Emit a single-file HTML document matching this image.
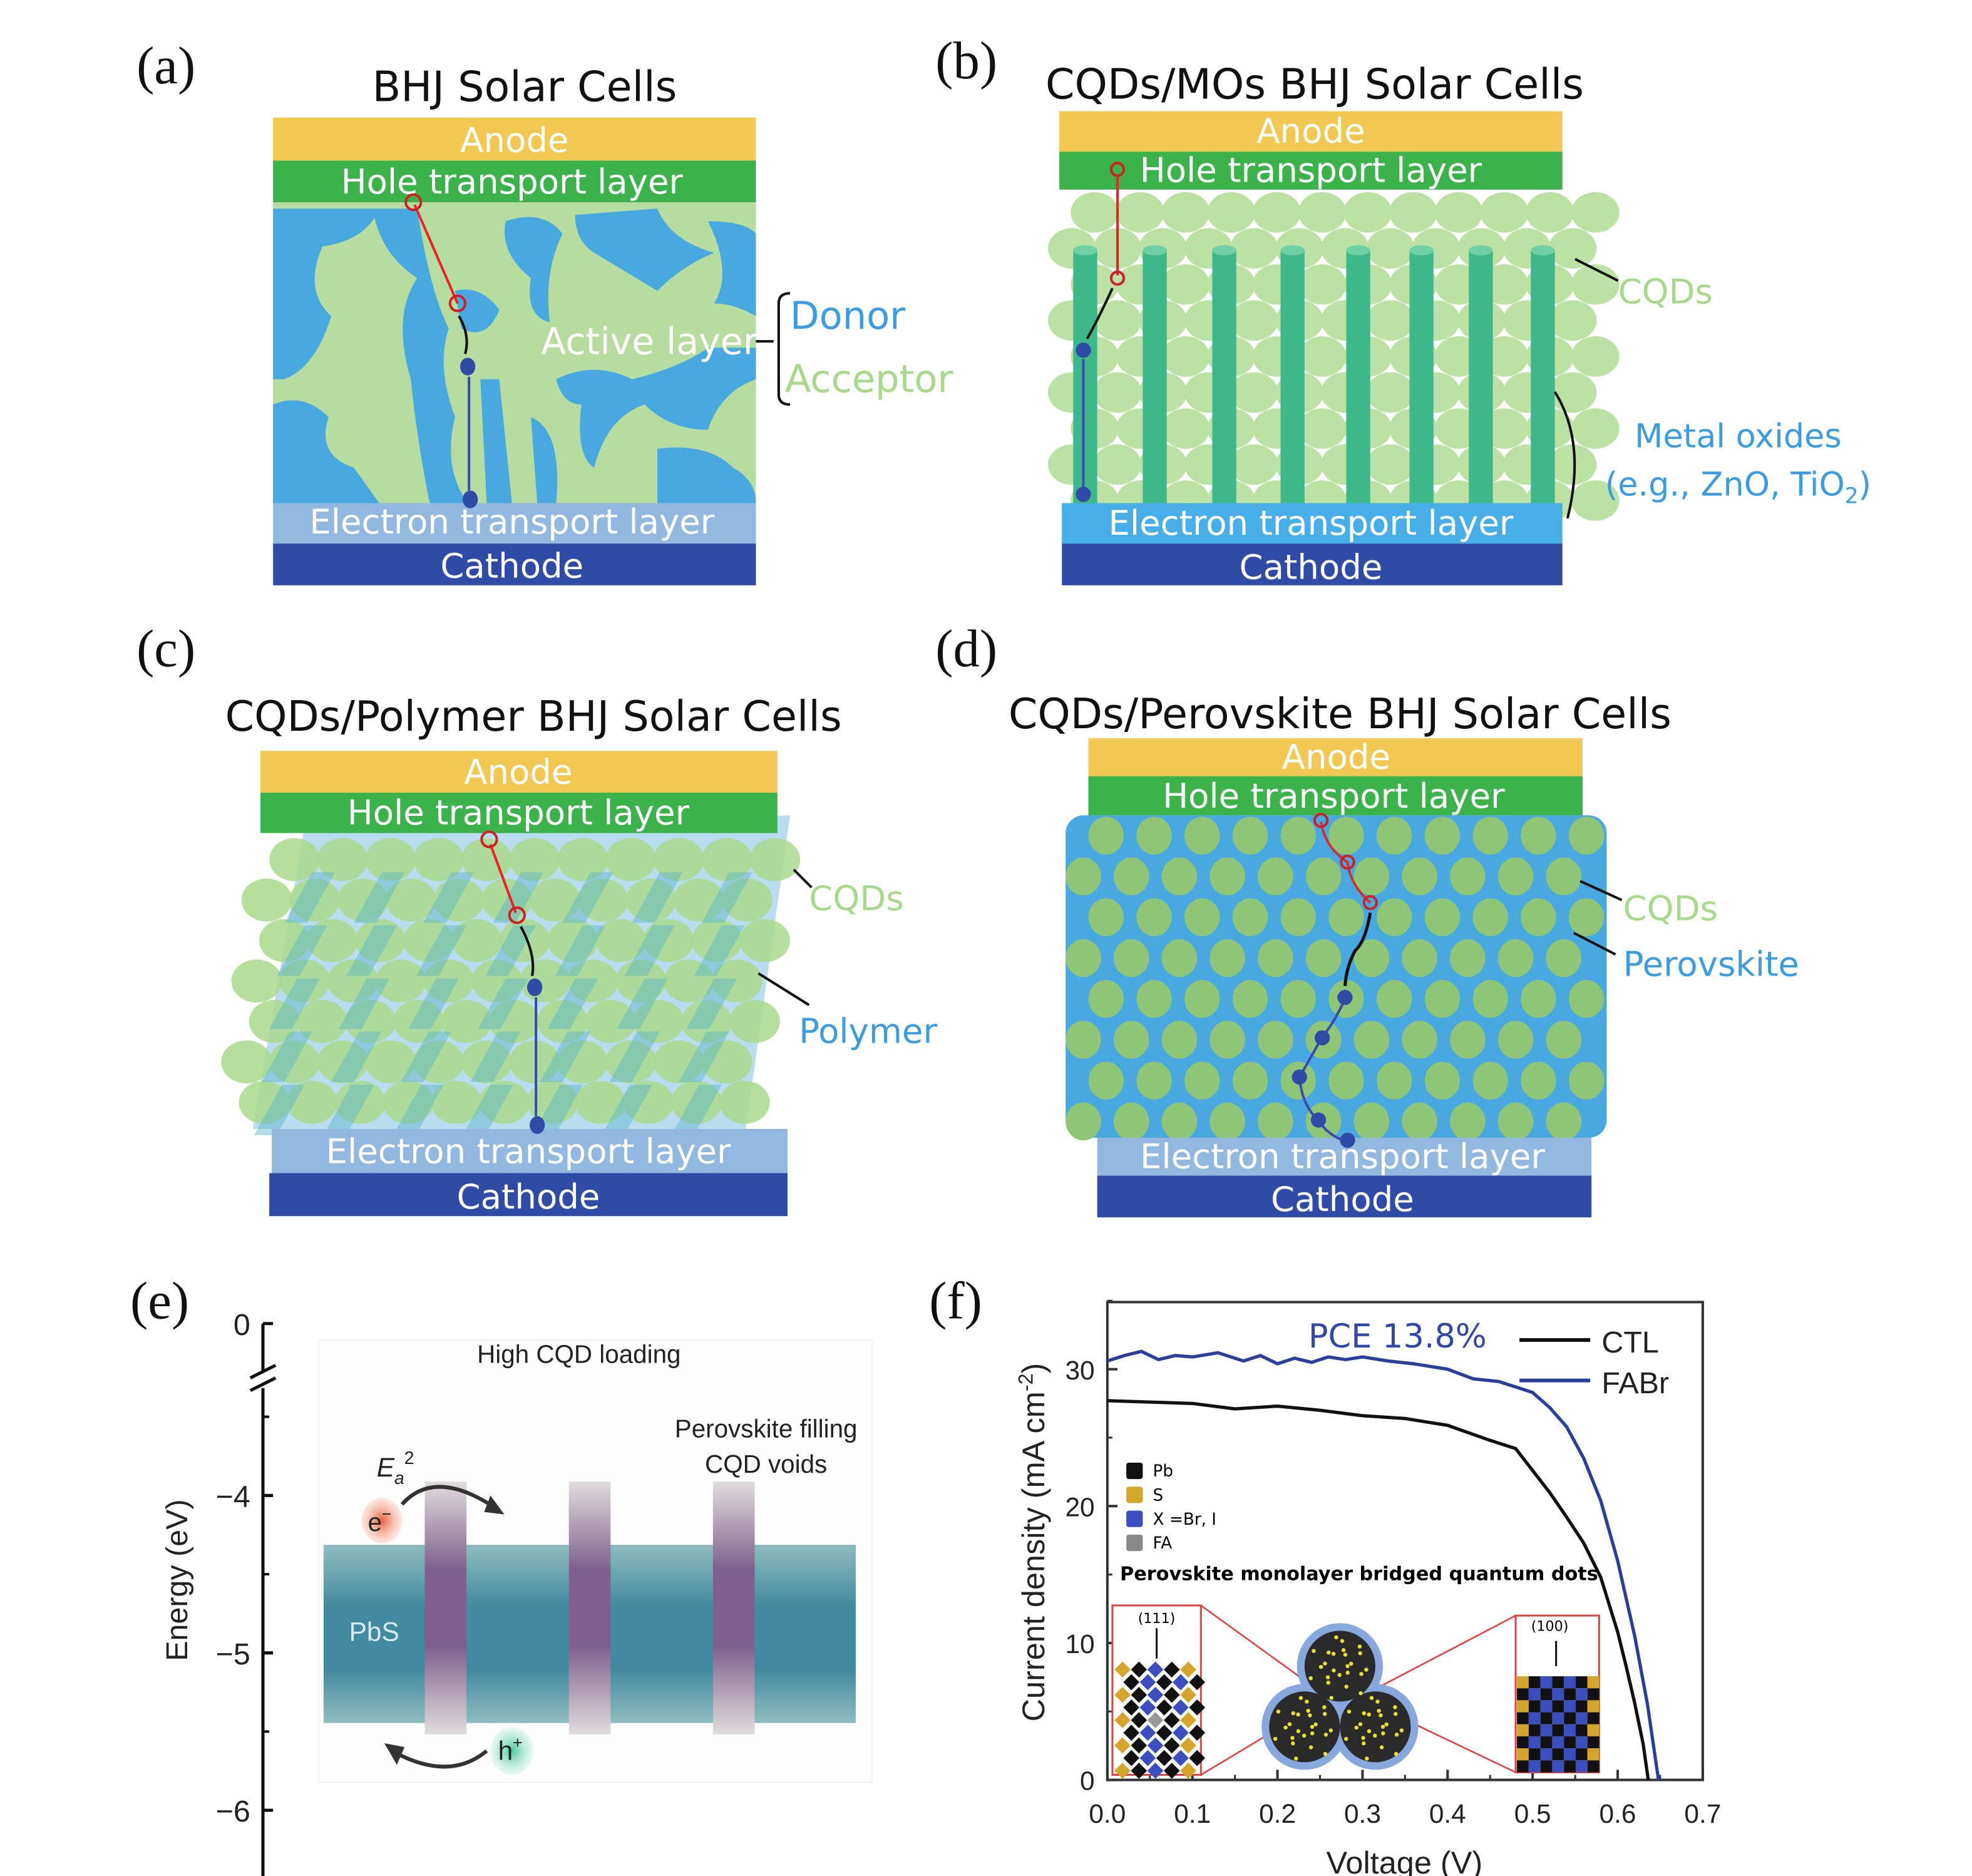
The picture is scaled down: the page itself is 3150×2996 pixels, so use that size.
<!DOCTYPE html>
<html><head><meta charset="utf-8"><style>
html,body{margin:0;padding:0;background:#fff;}
svg{display:block;}
text{font-family:"DejaVu Sans","Liberation Sans",sans-serif;}
.lab{font-family:"Liberation Serif",serif;font-size:42px;fill:#111;}
.ttl{font-size:33px;fill:#111;}
.lay{font-size:27px;fill:#fff;text-anchor:middle;}
.ax{font-family:"Liberation Sans",sans-serif;fill:#222;}
</style></head><body>
<svg id="root" width="3150" height="2996" viewBox="0 0 1560 1484" preserveAspectRatio="none" xmlns="http://www.w3.org/2000/svg">
<defs>
<linearGradient id="pbs" x1="0" y1="0" x2="0" y2="1"><stop offset="0" stop-color="#8fbcc0"/><stop offset="0.35" stop-color="#428a9e"/><stop offset="0.7" stop-color="#428a9e"/><stop offset="1" stop-color="#8fbcc0"/></linearGradient>
<linearGradient id="pur" x1="0" y1="0" x2="0" y2="1"><stop offset="0" stop-color="#e0dcdc"/><stop offset="0.35" stop-color="#7e5f8d"/><stop offset="0.65" stop-color="#7e5f8d"/><stop offset="1" stop-color="#e0dcdc"/></linearGradient>
<radialGradient id="eg"><stop offset="0" stop-color="#e8603c"/><stop offset="1" stop-color="#f6b7a2" stop-opacity="0.3"/></radialGradient>
<radialGradient id="hg"><stop offset="0" stop-color="#4bc8a0"/><stop offset="1" stop-color="#b6ead8" stop-opacity="0.3"/></radialGradient>
<clipPath id="clipA"><rect x="216" y="160" width="382" height="238"/></clipPath>
</defs>

<!-- Panel a -->
<g>
<text class="lab" x="108" y="66">(a)</text>
<text class="ttl" x="415" y="80" text-anchor="middle">BHJ Solar Cells</text>
<rect x="216" y="93" width="382" height="34" fill="#f2c852"/>
<text class="lay" x="407" y="120">Anode</text>
<rect x="216" y="127" width="382" height="33" fill="#3cb34a"/>
<text class="lay" x="405" y="153">Hole transport layer</text>
<rect x="216" y="160" width="382" height="238" fill="#b6dca0"/>
<g clip-path="url(#clipA)" fill="#48a8e0">
<path d="M216 165 L300 165 Q290 190 255 195 Q240 230 262 250 Q250 290 225 300 L216 300 Z"/>
<path d="M295 165 L330 165 Q340 230 355 260 Q345 290 360 330 Q350 370 370 398 L340 398 Q330 350 325 300 Q310 250 330 220 Q300 200 295 165 Z"/>
<path d="M360 230 Q380 225 395 245 Q385 270 365 260 Z"/>
<path d="M400 175 Q430 165 445 185 Q430 215 435 255 Q415 250 420 220 Q395 200 400 175 Z"/>
<path d="M455 170 L520 165 Q530 190 565 200 Q540 210 520 230 Q495 215 470 200 Q455 190 455 170 Z"/>
<path d="M560 175 Q590 175 598 185 L598 250 Q580 240 565 240 Q580 215 560 175 Z"/>
<path d="M440 300 Q470 285 500 300 Q540 290 560 275 L598 275 L598 300 Q570 310 560 340 Q530 340 510 320 Q480 330 470 370 Q455 360 460 320 Q445 320 440 300 Z"/>
<path d="M216 320 Q240 310 260 330 Q250 360 280 370 Q300 398 300 398 L216 398 Z"/>
<path d="M380 300 L395 300 Q400 350 405 398 L385 398 Z"/>
<path d="M520 355 Q560 350 580 370 Q598 380 598 398 L520 398 Z"/>
<path d="M420 330 Q445 340 440 398 L425 398 Z"/>
</g>
<rect x="216" y="398" width="382" height="32" fill="#93b8e0"/>
<text class="lay" x="405" y="422">Electron transport layer</text>
<rect x="216" y="430" width="382" height="33" fill="#2f4ba6"/>
<text class="lay" x="405" y="457">Cathode</text>
<line x1="362" y1="240" x2="328" y2="162" stroke="#e22" stroke-width="2"/>
<circle cx="327" cy="160" r="6" fill="none" stroke="#c22" stroke-width="2"/>
<circle cx="362" cy="240" r="6" fill="none" stroke="#c22" stroke-width="2"/>
<path d="M363 250 Q372 265 368 280" stroke="#111" stroke-width="2" fill="none"/>
<ellipse cx="370" cy="290" rx="6" ry="7" fill="#2f4ba6"/>
<line x1="371" y1="298" x2="371" y2="388" stroke="#3a4bb0" stroke-width="2"/>
<ellipse cx="372" cy="395" rx="6" ry="7" fill="#2f4ba6"/>
<text x="428" y="280" font-size="29" fill="#fff">Active layer</text>
<path d="M598 270 L612 270 M625 232 Q616 232 616 240 L616 312 Q616 320 625 320" stroke="#111" stroke-width="2" fill="none"/>
<text x="625" y="260" font-size="30" fill="#3d9be0">Donor</text>
<text x="621" y="310" font-size="30" fill="#a8d88a">Acceptor</text>
</g>

<!-- Panel b -->
<g>
<text class="lab" x="740" y="62">(b)</text>
<text class="ttl" x="1040" y="78" text-anchor="middle">CQDs/MOs BHJ Solar Cells</text>
<g id="cqdB" fill="#b8e0a0" opacity="0.95"></g>
<g id="pillB"></g>
<rect x="838" y="88" width="398" height="32" fill="#f2c852"/>
<text class="lay" x="1037" y="113">Anode</text>
<rect x="838" y="120" width="398" height="30" fill="#3cb34a"/>
<text class="lay" x="1037" y="144">Hole transport layer</text>
<rect x="840" y="398" width="396" height="32" fill="#48aee8"/>
<text class="lay" x="1037" y="423">Electron transport layer</text>
<rect x="840" y="430" width="396" height="33" fill="#2f4ba6"/>
<text class="lay" x="1037" y="458">Cathode</text>
<line x1="884" y1="218" x2="884" y2="140" stroke="#e22" stroke-width="2"/>
<circle cx="884" cy="134" r="5" fill="none" stroke="#c22" stroke-width="2"/>
<circle cx="884" cy="220" r="5" fill="none" stroke="#c22" stroke-width="2"/>
<path d="M880 228 Q870 250 860 268" stroke="#111" stroke-width="2" fill="none"/>
<ellipse cx="857" cy="277" rx="6" ry="6" fill="#2f4ba6"/>
<line x1="857" y1="284" x2="857" y2="385" stroke="#3a4bb0" stroke-width="2"/>
<ellipse cx="857" cy="391" rx="6" ry="6" fill="#2f4ba6"/>
<line x1="1246" y1="205" x2="1280" y2="222" stroke="#111" stroke-width="2"/>
<text x="1280" y="240" font-size="27" fill="#a8d88a">CQDs</text>
<path d="M1230 310 Q1255 350 1240 410" stroke="#111" stroke-width="2" fill="none"/>
<text x="1375" y="354" font-size="26" fill="#3d9be0" text-anchor="middle">Metal oxides</text>
<text x="1375" y="392" font-size="26" fill="#3d9be0" text-anchor="middle">(e.g., ZnO, TiO<tspan font-size="17" dy="6">2</tspan><tspan dy="-6">)</tspan></text>
</g>

<!-- Panel c -->
<g>
<text class="lab" x="108" y="527">(c)</text>
<text class="ttl" x="422" y="578" text-anchor="middle">CQDs/Polymer BHJ Solar Cells</text>
<path d="M240 659 L625 645 L590 893 L200 893 Z" fill="#b9dcee"/>
<g id="cqdC"></g>
<rect x="206" y="594" width="409" height="33" fill="#f2c852"/>
<text class="lay" x="410" y="620">Anode</text>
<rect x="206" y="627" width="409" height="32" fill="#3cb34a"/>
<text class="lay" x="410" y="652">Hole transport layer</text>
<rect x="215" y="893" width="408" height="35" fill="#93b8e0"/>
<text class="lay" x="418" y="920">Electron transport layer</text>
<rect x="213" y="928" width="410" height="34" fill="#2f4ba6"/>
<text class="lay" x="418" y="956">Cathode</text>
<line x1="408" y1="722" x2="388" y2="668" stroke="#e22" stroke-width="2"/>
<circle cx="387" cy="664" r="6" fill="none" stroke="#c22" stroke-width="2"/>
<circle cx="409" cy="724" r="6" fill="none" stroke="#c22" stroke-width="2"/>
<path d="M412 733 Q424 755 421 772" stroke="#111" stroke-width="2" fill="none"/>
<ellipse cx="423" cy="781" rx="6" ry="7" fill="#2f4ba6"/>
<line x1="424" y1="789" x2="424" y2="883" stroke="#3a4bb0" stroke-width="2"/>
<ellipse cx="425" cy="890" rx="6" ry="7" fill="#2f4ba6"/>
<line x1="628" y1="688" x2="642" y2="702" stroke="#111" stroke-width="2"/>
<text x="640" y="720" font-size="27" fill="#a8d88a">CQDs</text>
<line x1="600" y1="770" x2="640" y2="795" stroke="#111" stroke-width="2"/>
<text x="632" y="825" font-size="27" fill="#3d9be0">Polymer</text>
</g>

<!-- Panel d -->
<g>
<text class="lab" x="740" y="527">(d)</text>
<text class="ttl" x="1060" y="576" text-anchor="middle">CQDs/Perovskite BHJ Solar Cells</text>
<rect x="843" y="645" width="428" height="255" rx="14" fill="#48a8e0"/>
<g id="cqdD" fill="#8fc577"></g>
<rect x="861" y="584" width="391" height="30" fill="#f2c852"/>
<text class="lay" x="1057" y="608">Anode</text>
<rect x="861" y="614" width="391" height="31" fill="#3cb34a"/>
<text class="lay" x="1055" y="639">Hole transport layer</text>
<rect x="868" y="900" width="391" height="30" fill="#93b8e0"/>
<text class="lay" x="1062" y="924">Electron transport layer</text>
<rect x="868" y="930" width="391" height="33" fill="#2f4ba6"/>
<text class="lay" x="1062" y="958">Cathode</text>
<path d="M1045 650 Q1048 670 1066 682 Q1068 700 1084 714" stroke="#c33" stroke-width="2" fill="none"/>
<circle cx="1045" cy="649" r="5" fill="none" stroke="#c22" stroke-width="2"/>
<circle cx="1066" cy="682" r="5" fill="none" stroke="#c22" stroke-width="2"/>
<circle cx="1084" cy="714" r="5" fill="none" stroke="#c22" stroke-width="2"/>
<path d="M1084 722 Q1080 745 1072 752 Q1065 765 1064 780" stroke="#111" stroke-width="2.5" fill="none"/>
<path d="M1064 790 Q1055 810 1046 820 Q1035 840 1028 852 Q1030 875 1043 886 Q1050 898 1065 903" stroke="#3a4bb0" stroke-width="2" fill="none"/>
<ellipse cx="1064" cy="789" rx="6" ry="6" fill="#2f4ba6"/>
<ellipse cx="1046" cy="821" rx="6" ry="6" fill="#2f4ba6"/>
<ellipse cx="1028" cy="852" rx="6" ry="6" fill="#2f4ba6"/>
<ellipse cx="1043" cy="886" rx="6" ry="6" fill="#2f4ba6"/>
<ellipse cx="1066" cy="902" rx="6" ry="6" fill="#2f4ba6"/>
<line x1="1250" y1="697" x2="1283" y2="712" stroke="#111" stroke-width="2"/>
<text x="1284" y="728" font-size="27" fill="#a8d88a">CQDs</text>
<line x1="1245" y1="738" x2="1278" y2="755" stroke="#111" stroke-width="2"/>
<text x="1284" y="772" font-size="27" fill="#3d9be0">Perovskite</text>
</g>

<!-- Panel e -->
<g>
<text class="lab" x="103" y="1043">(e)</text>
<rect x="252" y="1060" width="438" height="350" fill="#fdfdfd" stroke="#f2f2f2"/>
<g id="axE"></g>
<text class="ax" x="148" y="1250" font-size="24" transform="rotate(-90 148 1250)" text-anchor="middle">Energy (eV)</text>
<rect x="256" y="1222" width="421" height="141" fill="url(#pbs)"/>
<rect x="336" y="1172" width="33" height="200" fill="url(#pur)"/>
<rect x="450" y="1172" width="33" height="200" fill="url(#pur)"/>
<rect x="564" y="1172" width="33" height="200" fill="url(#pur)"/>
<text class="ax" x="296" y="1298" font-size="21" fill="#cfe6ea" text-anchor="middle" style="fill:#d6eaee">PbS</text>
<text class="ax" x="458" y="1078" font-size="20" text-anchor="middle">High CQD loading</text>
<text class="ax" x="606" y="1137" font-size="20" text-anchor="middle">Perovskite filling</text>
<text class="ax" x="606" y="1165" font-size="20" text-anchor="middle">CQD voids</text>
<text class="ax" x="298" y="1168" font-size="21" font-style="italic">E<tspan font-size="14" dy="6">a</tspan><tspan font-size="14" dy="-16" font-style="normal">2</tspan></text>
<ellipse cx="302" cy="1203" rx="16" ry="18" fill="url(#eg)"/>
<text class="ax" x="291" y="1211" font-size="20">e<tspan font-size="13" dy="-9">−</tspan></text>
<path d="M318 1190 Q345 1160 395 1195" stroke="#333" stroke-width="3" fill="none"/>
<path d="M388 1183 L399 1198 L383 1196 Z" fill="#333"/>
<ellipse cx="405" cy="1385" rx="17" ry="19" fill="url(#hg)"/>
<text class="ax" x="394" y="1392" font-size="21">h<tspan font-size="13" dy="-9">+</tspan></text>
<path d="M385 1385 Q355 1410 310 1385" stroke="#333" stroke-width="3" fill="none"/>
<path d="M304 1379 L314 1396 L320 1382 Z" fill="#333"/>
</g>

<!-- Panel f -->
<g>
<text class="lab" x="735" y="1043">(f)</text>
<rect x="876" y="1030" width="471" height="378" fill="none" stroke="#333" stroke-width="2"/>
<g id="axF"></g>
<text class="ax" x="826" y="1220" font-size="25" transform="rotate(-90 826 1220)" text-anchor="middle">Current density (mA cm<tspan font-size="16" dy="-9">-2</tspan><tspan dy="9">)</tspan></text>
<text class="ax" x="1111" y="1482" font-size="25" text-anchor="middle">Voltage (V)</text>
<!-- inset -->
<g font-family="Liberation Sans" font-size="13">
<rect x="891" y="1157" width="13" height="13" rx="2" fill="#111"/><text x="912" y="1168">Pb</text>
<rect x="891" y="1176" width="13" height="13" rx="2" fill="#d4a52a"/><text x="912" y="1187">S</text>
<rect x="891" y="1195" width="13" height="13" rx="2" fill="#3a4ec0"/><text x="912" y="1206">X =Br, I</text>
<rect x="891" y="1214" width="13" height="13" rx="2" fill="#888"/><text x="912" y="1225">FA</text>
<text x="886" y="1250" font-size="15" font-weight="bold">Perovskite monolayer bridged quantum dots</text>
</g>
<g>
<rect x="880" y="1270" width="70" height="134" fill="#fff" stroke="#d44" stroke-width="1.5"/>
<text x="915" y="1284" font-size="11" text-anchor="middle" font-family="Liberation Sans">(111)</text>
<line x1="915" y1="1288" x2="915" y2="1312" stroke="#111" stroke-width="1.5"/>
<g id="lat1"></g>
<rect x="1199" y="1278" width="66" height="124" fill="#fff" stroke="#d44" stroke-width="1.5"/>
<text x="1226" y="1290" font-size="11" text-anchor="middle" font-family="Liberation Sans">(100)</text>
<line x1="1231" y1="1298" x2="1231" y2="1318" stroke="#111" stroke-width="1.5"/>
<g id="lat2"></g>
<path d="M950 1270 L1040 1335 M950 1404 L1040 1350 M1199 1278 L1090 1335 M1199 1402 L1090 1350" stroke="#d44" stroke-width="1.3" fill="none"/>
<circle cx="1060" cy="1318" r="34" fill="#86a8dc"/>
<circle cx="1032" cy="1366" r="34" fill="#86a8dc"/>
<circle cx="1088" cy="1366" r="34" fill="#86a8dc"/>
<circle cx="1060" cy="1318" r="28" fill="#2a2a2a"/>
<circle cx="1032" cy="1366" r="28" fill="#2a2a2a"/>
<circle cx="1088" cy="1366" r="28" fill="#2a2a2a"/>
<g id="dots"></g>
</g>
<g id="seriesF"></g>
<text x="1035" y="1066" font-size="26" fill="#3347a8" font-family="Liberation Sans">PCE 13.8%</text>
<line x1="1202" y1="1060" x2="1258" y2="1060" stroke="#111" stroke-width="3"/>
<text class="ax" x="1267" y="1070" font-size="24">CTL</text>
<line x1="1202" y1="1092" x2="1258" y2="1092" stroke="#2a3e9a" stroke-width="3"/>
<text class="ax" x="1267" y="1102" font-size="24">FABr</text>
</g>
</svg>
<script>
const NS='http://www.w3.org/2000/svg';
function mk(tag,attrs,parent){const e=document.createElementNS(NS,tag);for(const k in attrs)e.setAttribute(k,attrs[k]);parent.appendChild(e);return e;}

// ---- chart data (panel f) ----
const voltsCTL=[0,0.05,0.1,0.15,0.2,0.25,0.3,0.35,0.4,0.45,0.48,0.5,0.52,0.54,0.56,0.58,0.6,0.61,0.62,0.63,0.636];
const jCTL=[27.7,27.6,27.5,27.1,27.3,27.0,26.6,26.4,25.9,24.8,24.2,22.6,21.0,19.2,17.3,14.8,10.8,8.3,5.6,2.6,0];
const voltsFABr=[0,0.02,0.04,0.06,0.08,0.1,0.13,0.16,0.18,0.2,0.22,0.24,0.26,0.28,0.3,0.33,0.36,0.4,0.43,0.46,0.5,0.52,0.54,0.56,0.58,0.6,0.62,0.635,0.648];
const jFABr=[30.6,31.0,31.3,30.7,31.0,30.9,31.2,30.6,31.0,30.4,30.8,30.5,30.9,30.7,30.9,30.6,30.4,30.0,29.3,29.1,28.3,27.2,25.8,23.5,20.4,16.0,10.5,5.5,0];
const xTicks=[0,0.1,0.2,0.3,0.4,0.5,0.6,0.7];
const xTickLabels=['0.0','0.1','0.2','0.3','0.4','0.5','0.6','0.7'];
const yTicks=[0,10,20,30];
const yTickLabels=['0','10','20','30'];
const eTicks=[0,-4,-5,-6];
const eTickLabels=['0','\u22124','\u22125','\u22126'];

const X=v=>876+v/0.7*471;
const Y=j=>1408-j*10.83;
const axF=document.getElementById('axF');
xTicks.forEach((t,i)=>{
  const l=mk('line',{x1:X(t),x2:X(t),y1:1408,y2:1400,stroke:'#333','stroke-width':2},axF);
  
  if(i<xTicks.length-1){mk('line',{x1:X(t+0.05),x2:X(t+0.05),y1:1408,y2:1404,stroke:'#333','stroke-width':1.5},axF);}
  const tx=mk('text',{x:X(t),y:1442,'font-size':21,'text-anchor':'middle','class':'ax'},axF);tx.textContent=xTickLabels[i];
  
});
yTicks.forEach((t,i)=>{
  const l=mk('line',{x1:876,x2:884,y1:Y(t),y2:Y(t),stroke:'#333','stroke-width':2},axF);
  
  mk('line',{x1:876,x2:880,y1:Y(t+5),y2:Y(t+5),stroke:'#333','stroke-width':1.5},axF);
  const tx=mk('text',{x:866,y:Y(t)+8,'font-size':21,'text-anchor':'end','class':'ax'},axF);tx.textContent=yTickLabels[i];
  
});
const sF=document.getElementById('seriesF');
function line(xs,ys,col,name){
  const d=xs.map((v,i)=>(i?'L':'M')+X(v).toFixed(1)+' '+Y(ys[i]).toFixed(1)).join(' ');
  const p=mk('path',{d:d,fill:'none',stroke:col,'stroke-width':2.6,'stroke-linejoin':'round'},sF);
  
}
line(voltsCTL,jCTL,'#111','ctl-curve');
line(voltsFABr,jFABr,'#2a3e9a','fabr-curve');

// Panel e axis
const YE=e=>e===0?1047:1183+(-4-e)*124.5;
const axE=document.getElementById('axE');
mk('path',{d:'M208 1047 L208 1084 M208 1098 L208 1484',stroke:'#111','stroke-width':2.5,fill:'none'},axE);
mk('path',{d:'M198 1090 L218 1080 M198 1100 L218 1090',stroke:'#111','stroke-width':2.5},axE);
eTicks.forEach((t,i)=>{
  const l=mk('line',{x1:208,x2:216,y1:YE(t),y2:YE(t),stroke:'#111','stroke-width':2.5},axE);
  
  const tx=mk('text',{x:198,y:YE(t)+9,'font-size':24,'text-anchor':'end','class':'ax'},axE);tx.textContent=eTickLabels[i];
  
});
[-3.5,-4.5,-5.5].forEach(t=>mk('line',{x1:208,x2:213,y1:YE(t),y2:YE(t),stroke:'#111','stroke-width':2},axE));

// Panel b CQDs + pillars
const gB=document.getElementById('cqdB');
for(let r=0;r<9;r++){for(let c=0;c<12;c++){const off=r%2?0:18;
  mk('ellipse',{cx:848+off+c*36,cy:168+r*28.5,rx:19,ry:16},gB);}}
const gP=document.getElementById('pillB');
[858,913,968,1022,1074,1124,1171,1220].forEach(x=>{
  mk('rect',{x:x-9,y:198,width:19,height:202,fill:'#3cb88a'},gP);
  mk('ellipse',{cx:x+0.5,cy:198,rx:9.5,ry:4,fill:'#6fd0a6'},gP);
});

// Panel c CQDs + polymer sheets
const gC=document.getElementById('cqdC');
for(let r=0;r<7;r++){for(let c=0;c<11;c++){const off=(r%2?0:18)-r*4;
  mk('ellipse',{cx:215+off+c*38,cy:680+r*32,rx:20,ry:17,fill:'#a9d98c',opacity:0.85},gC);}}
for(let r=0;r<5;r++){for(let c=0;c<7;c++){
  const x=225+c*55-r*6,y=690+r*42;
  mk('path',{d:`M${x} ${y+40} L${x+22} ${y} L${x+40} ${y} L${x+18} ${y+40} Z`,fill:'#5bb4c8',opacity:0.45},gC);}}

// Panel d CQD grid
const gD=document.getElementById('cqdD');
for(let r=0;r<8;r++){for(let c=0;c<11;c++){const off=r%2?0:18;
  mk('ellipse',{cx:857+off+c*38,cy:661+r*32.3,rx:14,ry:15},gD);}}

// inset lattices
const l1=document.getElementById('lat1');
for(let r=0;r<9;r++){for(let c=0;c<5;c++){const off=r%2?7:0;
  const col=(c===0||c===4)?'#d4a52a':(c===2&&r%3===1?'#999':'#3a4ec0');
  mk('rect',{x:884+c*13+off,y:1316+r*10,width:9,height:9,fill:(r+c)%2?'#111':col,transform:`rotate(45 ${888+c*13+off} ${1320+r*10})`},l1);}}
const l2=document.getElementById('lat2');
for(let r=0;r<8;r++){for(let c=0;c<7;c++){
  const col=(r+c)%2?'#111':((c===0||c===6)?'#d4a52a':'#3a4ec0');
  mk('rect',{x:1200+c*9.3,y:1326+r*9.5,width:9.3,height:9.5,fill:col},l2);}}
const dots=document.getElementById('dots');
[[1060,1318],[1032,1366],[1088,1366]].forEach(([cx,cy])=>{
  for(let a=0;a<24;a++){const ang=a*2.4,rr=6+(a*7)%22;
    mk('circle',{cx:cx+Math.cos(ang)*rr,cy:cy+Math.sin(ang)*rr,r:1.6,fill:'#e8e030'},dots);}
});
</script>
</body></html>
